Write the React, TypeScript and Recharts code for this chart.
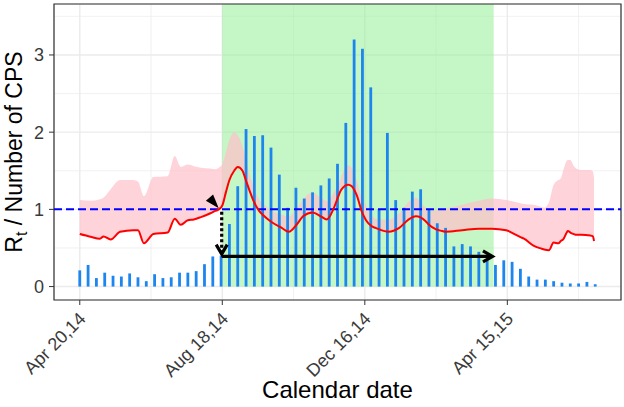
import React from 'react';
import {
  ComposedChart,
  Bar,
  Line,
  Area,
  XAxis,
  YAxis,
  CartesianGrid,
  ReferenceArea,
  ReferenceLine,
} from 'recharts';

// ---- data (days since Apr 20, 2014) ----
const barDays = [
  0, 7, 14, 21, 28, 35, 42, 49, 56, 63, 70, 77, 84, 91, 98, 105, 112, 119, 126, 133, 140,
  147, 154, 161, 168, 175, 182, 189, 196, 203, 210, 217, 224, 231, 238, 245, 252, 259, 266,
  273, 280, 287, 294, 301, 308, 315, 322, 329, 336, 343, 350, 357, 364, 371, 378, 385, 392,
  399, 406, 413, 420, 427, 434,
];
const cpsValues = [
  0.21, 0.28, 0.11, 0.18, 0.14, 0.13, 0.17, 0.12, 0.07, 0.16, 0.11, 0.12, 0.18, 0.18, 0.2,
  0.29, 0.39, 0.4, 0.81, 1.3, 2.04, 1.95, 1.96, 1.8, 1.45, 1.02, 1.28, 1.14, 1.22, 1.31, 1.4,
  1.59, 2.12, 3.2, 3.08, 2.58, 1.0, 1.99, 1.12, 1.02, 1.23, 1.26, 1.0, 0.82, 0.76, 0.52, 0.55,
  0.52, 0.45, 0.34, 0.28, 0.34, 0.32, 0.23, 0.13, 0.09, 0.09, 0.07, 0.05, 0.04, 0.04, 0.06,
  0.03,
];
const curveDays = [
  0, 9, 17, 20, 26, 34, 45, 49, 54, 62, 74, 80, 85, 91, 96, 102, 110, 114, 117, 120, 123, 126,
  130, 133, 137, 140, 143, 146, 151, 154, 162, 170, 176, 183, 188, 196, 203, 208, 214, 217,
  220, 226, 229, 233, 238, 241, 246, 249, 252, 260, 269, 277, 283, 291, 294, 300, 305, 308,
  322, 336, 347, 359, 366, 371, 374, 382, 389, 391, 395, 399, 403, 405, 407, 410, 411, 413,
  416, 418, 422, 430, 432, 433,
];
const rtValues = [
  0.68, 0.645, 0.62, 0.65, 0.61, 0.71, 0.73, 0.73, 0.56, 0.68, 0.7, 0.88, 0.8, 0.86, 0.87, 0.9,
  0.95, 0.98, 1.0, 1.05, 1.22, 1.38, 1.5, 1.55, 1.5, 1.37, 1.24, 1.12, 0.98, 0.93, 0.83, 0.76,
  0.71, 0.81, 0.91, 0.96, 0.91, 0.87, 1.02, 1.14, 1.25, 1.32, 1.3, 1.19, 0.95, 0.86, 0.78,
  0.76, 0.74, 0.71, 0.76, 0.87, 0.91, 0.85, 0.8, 0.74, 0.72, 0.71, 0.73, 0.75, 0.75, 0.73,
  0.68, 0.64, 0.62, 0.53, 0.49, 0.48, 0.47, 0.57, 0.56, 0.59, 0.61, 0.7, 0.72, 0.7, 0.68, 0.67,
  0.67, 0.66, 0.65, 0.59,
];
const rtUpper = [
  1.12, 1.11, 1.13, 1.15, 1.26, 1.38, 1.38, 1.36, 1.17, 1.42, 1.43, 1.69, 1.55, 1.58, 1.56,
  1.54, 1.53, 1.52, 1.54, 1.58, 1.74, 1.9, 2.0, 1.96, 1.82, 1.64, 1.45, 1.32, 1.13, 1.08, 0.98,
  0.93, 0.91, 1.02, 1.13, 1.22, 1.15, 1.11, 1.22, 1.3, 1.42, 1.57, 1.54, 1.38, 1.12, 1.05,
  0.92, 0.88, 0.87, 0.87, 0.95, 1.1, 1.15, 1.02, 0.98, 0.99, 1.0, 1.01, 1.06, 1.11, 1.14, 1.12,
  1.1, 1.08, 1.07, 1.06, 1.03, 1.02, 1.09, 1.32, 1.38, 1.4, 1.5, 1.63, 1.64, 1.64, 1.56, 1.53,
  1.51, 1.51, 1.49, 1.41,
];
const xTickDays = [0, 120, 240, 360];
const xTickLabels = ['Apr 20,14', 'Aug 18,14', 'Dec 16,14', 'Apr 15,15'];
const xMinorDays = [60, 180, 300, 420];
const yTicks = [0, 1, 2, 3];
const yMinor = [0.5, 1.5, 2.5, 3.5];
const xDomain = [-21.7, 455.7];
const yDomain = [-0.174, 3.66];
const interventionStart = 120;
const interventionEnd = 348.5;
const thresholdRt = 1;
const crossingFrom = { x: 109, y: 1.155 };
const crossingTo = { x: 117, y: 1.015 };
const dropFrom = { x: 119.5, y: 0.97 };
const dropTo = { x: 119.5, y: 0.42 };
const spanFrom = { x: 119.5, y: 0.39 };
const spanTo = { x: 347.5, y: 0.39 };

const barData = barDays.map((d, i) => ({ day: d, cps: cpsValues[i] }));
const curveData = curveDays.map((d, i) => ({
  day: d,
  rt: rtValues[i],
  band: [rtValues[i], rtUpper[i]],
}));

const FONT = 'Liberation Sans, Arial, Helvetica, sans-serif';
const TICK_COLOR = '#3A3A3A';

const XTick = (props: any) => {
  const { x, y, payload } = props;
  const i = xTickDays.indexOf(payload.value);
  const tx = x + 7;
  const ty = y + 13;
  return (
    <text
      x={tx}
      y={ty}
      transform={`rotate(-45 ${tx} ${ty})`}
      textAnchor="end"
      fontSize={18}
      fill={TICK_COLOR}
      fontFamily={FONT}
    >
      {xTickLabels[i]}
    </text>
  );
};

const BarShape = (p: any) => {
  const { x, y, width, height } = p;
  if (!height || height <= 0) return null;
  const cx = x + width / 2;
  return <rect x={cx - 1.4} y={y} width={2.8} height={height} fill="#1C86EE" />;
};

const openArrow = (dash?: string) => (p: any) => {
  const { x1, y1, x2, y2 } = p;
  const ang = Math.atan2(y2 - y1, x2 - x1);
  const L = 11;
  const a = Math.PI / 6;
  const ax = x2 - L * Math.cos(ang - a);
  const ay = y2 - L * Math.sin(ang - a);
  const bx = x2 - L * Math.cos(ang + a);
  const by = y2 - L * Math.sin(ang + a);
  return (
    <g>
      <line
        x1={x1}
        y1={y1}
        x2={x2 - 1.5 * Math.cos(ang)}
        y2={y2 - 1.5 * Math.sin(ang)}
        stroke="#000"
        strokeWidth={3.2}
        strokeDasharray={dash}
      />
      <polyline
        points={`${ax},${ay} ${x2},${y2} ${bx},${by}`}
        fill="none"
        stroke="#000"
        strokeWidth={3.2}
        strokeLinejoin="miter"
      />
    </g>
  );
};

const filledHead = (p: any) => {
  const { x1, y1, x2, y2 } = p;
  const ang = Math.atan2(y2 - y1, x2 - x1);
  const L = 14;
  const w = 4.8;
  const bx = x2 - L * Math.cos(ang);
  const by = y2 - L * Math.sin(ang);
  const nx = -Math.sin(ang) * w;
  const ny = Math.cos(ang) * w;
  return (
    <polygon
      points={`${x2},${y2} ${bx + nx},${by + ny} ${bx - nx},${by - ny}`}
      fill="#000"
      stroke="none"
    />
  );
};

export default function App() {
  return (
    <div style={{ position: 'absolute', left: 0, top: 0, width: 624, height: 407, background: '#fff' }}>
      <ComposedChart
        width={624}
        height={407}
        data={barData}
        margin={{ top: 4, right: 3, bottom: 0, left: 0 }}
      >
        <CartesianGrid
          stroke="#EBEBEB"
          strokeWidth={0.7}
          horizontalValues={yMinor}
          verticalValues={xMinorDays}
          fill="none"
        />
        <CartesianGrid stroke="#EBEBEB" strokeWidth={1.4} fill="none" />
        <XAxis
          type="number"
          dataKey="day"
          domain={xDomain}
          ticks={xTickDays}
          allowDataOverflow
          height={107}
          tickSize={5}
          tickMargin={2}
          tickLine={{ stroke: '#333333', strokeWidth: 1 }}
          axisLine={false}
          tick={<XTick />}
          interval={0}
        />
        <YAxis
          type="number"
          domain={yDomain}
          ticks={yTicks}
          allowDataOverflow
          width={54}
          tickSize={5}
          tickMargin={5}
          tickLine={{ stroke: '#333333', strokeWidth: 1 }}
          axisLine={false}
          tick={{ fontSize: 18, fill: TICK_COLOR, fontFamily: FONT }}
          interval={0}
        />
        <ReferenceArea
          x1={interventionStart}
          x2={interventionEnd}
          y1={0}
          y2={yDomain[1]}
          fill="#90EE90"
          fillOpacity={0.52}
          stroke="none"
          ifOverflow="visible"
        />
        <Area
          data={curveData}
          dataKey="band"
          type="monotone"
          fill="#FFC0CB"
          fillOpacity={0.7}
          stroke="none"
          dot={false}
          activeDot={false}
          isAnimationActive={false}
        />
        <Bar dataKey="cps" fill="#1C86EE" shape={BarShape} isAnimationActive={false} />
        <ReferenceLine
          y={thresholdRt}
          stroke="#0000FF"
          strokeWidth={2}
          strokeDasharray="8 4"
          ifOverflow="visible"
        />
        <Line
          data={curveData}
          dataKey="rt"
          type="monotone"
          stroke="#FF0000"
          strokeWidth={2}
          dot={false}
          activeDot={false}
          isAnimationActive={false}
        />
        <ReferenceArea
          x1={xDomain[0]}
          x2={xDomain[1]}
          y1={yDomain[0]}
          y2={yDomain[1]}
          fill="none"
          stroke="#333333"
          strokeWidth={1.2}
          ifOverflow="visible"
        />
        <ReferenceLine segment={[crossingFrom, crossingTo]} shape={filledHead} ifOverflow="visible" />
        <ReferenceLine segment={[dropFrom, dropTo]} shape={openArrow('3 2.5')} ifOverflow="visible" />
        <ReferenceLine segment={[spanFrom, spanTo]} shape={openArrow()} ifOverflow="visible" />
      </ComposedChart>
      <svg
        width={624}
        height={407}
        style={{ position: 'absolute', left: 0, top: 0, pointerEvents: 'none' }}
      >
        <text
          transform="translate(22,152) rotate(-90)"
          textAnchor="middle"
          fontSize={23}
          fontFamily={FONT}
          fill="#000"
        >
          R<tspan fontSize={16} dy={5}>t</tspan>
          <tspan dy={-5}> / Number of CPS</tspan>
        </text>
        <text x={337.5} y={398} textAnchor="middle" fontSize={24} fontFamily={FONT} fill="#000">
          Calendar date
        </text>
      </svg>
    </div>
  );
}
